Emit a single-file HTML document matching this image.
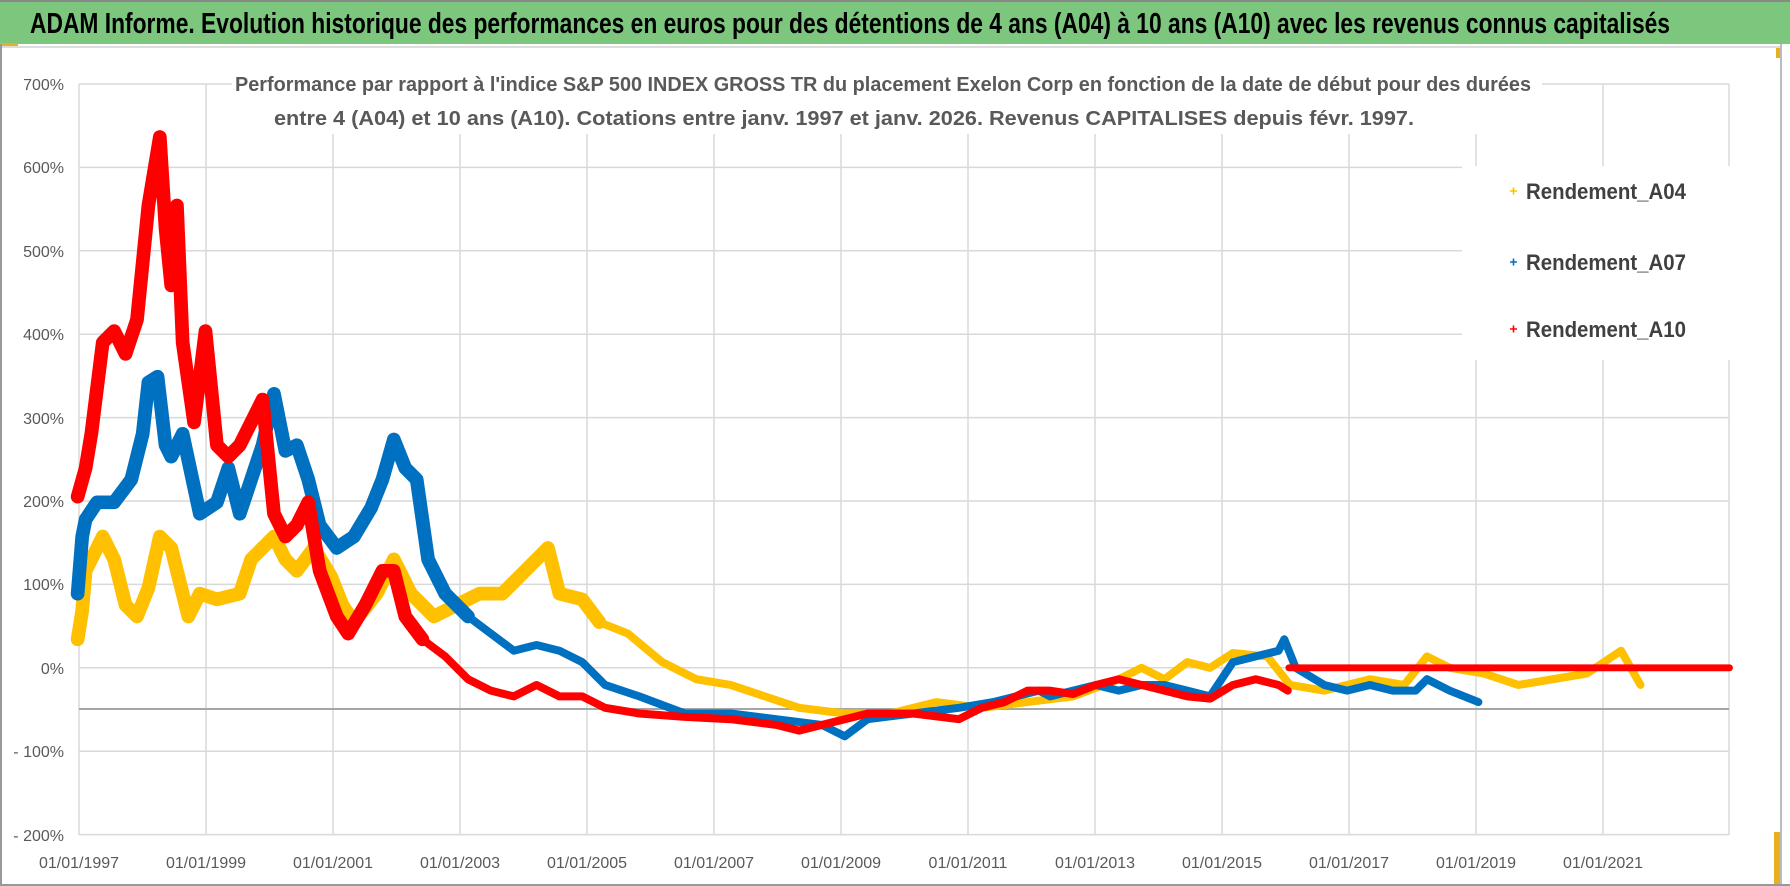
<!DOCTYPE html>
<html><head><meta charset="utf-8"><style>
html,body{margin:0;padding:0;background:#fff;}
svg{display:block;}
text{font-family:"Liberation Sans",sans-serif;}
</style></head><body>
<svg width="1790" height="886" xmlns="http://www.w3.org/2000/svg">
<rect x="0" y="0" width="1790" height="886" fill="#fff"/>
<rect x="0" y="0" width="1790" height="44" fill="#7DC67E"/>
<line x1="0" y1="1" x2="1790" y2="1" stroke="#888" stroke-width="2"/>
<rect x="0" y="43" width="18" height="3" fill="#E8B020"/>
<line x1="0" y1="47" x2="1780" y2="47" stroke="#ddd" stroke-width="2"/>
<line x1="1" y1="44" x2="1" y2="886" stroke="#999" stroke-width="2"/>
<line x1="1781" y1="44" x2="1781" y2="886" stroke="#bbb" stroke-width="2"/>
<line x1="0" y1="885" x2="1790" y2="885" stroke="#999" stroke-width="2"/>
<rect x="1776" y="48" width="4" height="10" fill="#E8B020"/>
<rect x="1774" y="832" width="6" height="52" fill="#E8B020"/>
<text x="30" y="33" font-size="29" font-weight="bold" fill="#000" textLength="1640" lengthAdjust="spacingAndGlyphs">ADAM Informe. Evolution historique des performances en euros pour des détentions de 4 ans (A04) à 10 ans (A10) avec les revenus connus capitalisés</text>

<g stroke="#d9d9d9" stroke-width="1.5">
<line x1="79" y1="84" x2="1729" y2="84"/>
<line x1="79" y1="167.4" x2="1729" y2="167.4"/>
<line x1="79" y1="250.8" x2="1729" y2="250.8"/>
<line x1="79" y1="334.2" x2="1729" y2="334.2"/>
<line x1="79" y1="417.6" x2="1729" y2="417.6"/>
<line x1="79" y1="501" x2="1729" y2="501"/>
<line x1="79" y1="584.4" x2="1729" y2="584.4"/>
<line x1="79" y1="667.8" x2="1729" y2="667.8"/>
<line x1="79" y1="751.2" x2="1729" y2="751.2"/>
<line x1="79" y1="834.6" x2="1729" y2="834.6"/>
<line x1="79" y1="84" x2="79" y2="835"/>
<line x1="206" y1="84" x2="206" y2="835"/>
<line x1="333" y1="84" x2="333" y2="835"/>
<line x1="460" y1="84" x2="460" y2="835"/>
<line x1="587" y1="84" x2="587" y2="835"/>
<line x1="714" y1="84" x2="714" y2="835"/>
<line x1="841" y1="84" x2="841" y2="835"/>
<line x1="968" y1="84" x2="968" y2="835"/>
<line x1="1095" y1="84" x2="1095" y2="835"/>
<line x1="1222" y1="84" x2="1222" y2="835"/>
<line x1="1349" y1="84" x2="1349" y2="835"/>
<line x1="1476" y1="84" x2="1476" y2="835"/>
<line x1="1603" y1="84" x2="1603" y2="835"/>
<line x1="1729" y1="84" x2="1729" y2="835"/>
</g>
<line x1="79" y1="709" x2="1729" y2="709" stroke="#a6a6a6" stroke-width="2"/>

<g font-size="16" fill="#595959" text-anchor="end">
<text x="64" y="90">700%</text>
<text x="64" y="173">600%</text>
<text x="64" y="257">500%</text>
<text x="64" y="340">400%</text>
<text x="64" y="424">300%</text>
<text x="64" y="507">200%</text>
<text x="64" y="590">100%</text>
<text x="64" y="674">0%</text>
<text x="64" y="757">- 100%</text>
<text x="64" y="841">- 200%</text>
</g>
<g font-size="16" fill="#595959" text-anchor="middle">
<text x="79" y="868">01/01/1997</text>
<text x="206" y="868">01/01/1999</text>
<text x="333" y="868">01/01/2001</text>
<text x="460" y="868">01/01/2003</text>
<text x="587" y="868">01/01/2005</text>
<text x="714" y="868">01/01/2007</text>
<text x="841" y="868">01/01/2009</text>
<text x="968" y="868">01/01/2011</text>
<text x="1095" y="868">01/01/2013</text>
<text x="1222" y="868">01/01/2015</text>
<text x="1349" y="868">01/01/2017</text>
<text x="1476" y="868">01/01/2019</text>
<text x="1603" y="868">01/01/2021</text>
</g>

<g transform="scale(1.1416)" fill="none" stroke-linejoin="round" stroke-linecap="round">
<!-- A04 yellow -->
<polyline stroke="#FFC000" stroke-width="12" points="68,560 72,535 75,500 90,470 100,490 110,530 120,540 130,515 140,470 150,480 165,540 175,520 190,525 210,520 220,490 230,480 240,470 250,490 260,500 275,480 290,505 300,530 310,545 330,520 345,490 360,520 380,540 400,530 420,520 440,520 460,500 480,480 490,520 510,525 525,545"/>
<polyline stroke="#FFC000" stroke-width="7" points="525,545 550,555 580,580 610,595 640,600 670,610 700,620 740,625 780,625 820,615 860,620 900,615 940,610 980,595 1000,585 1020,595 1040,580 1060,585 1080,572 1110,575 1130,600 1160,605 1200,595 1230,600 1250,575 1270,585 1300,590 1330,600 1360,595 1390,590 1420,570 1437,600"/>
<!-- A07 blue -->
<polyline stroke="#0070C0" stroke-width="12" points="68,520 72,470 75,455 85,440 100,440 115,420 125,380 130,335 138,330 145,390 150,400 160,380 175,450 190,440 200,410 210,450 220,420 230,390 240,345 250,395 260,390 270,420 280,460 295,480 310,470 325,445 335,420 345,385 355,410 365,420 375,490 390,520 410,540"/>
<polyline stroke="#0070C0" stroke-width="7" points="410,540 430,555 450,570 470,565 490,570 510,580 530,600 560,610 600,625 640,625 680,630 720,635 740,645 760,630 800,625 840,620 870,615 890,610 910,605 920,610 940,605 960,600 980,605 1000,600 1020,600 1040,605 1060,610 1080,580 1100,575 1120,570 1125,560 1135,585 1160,600 1180,605 1200,600 1220,605 1240,605 1250,595 1270,605 1295,615"/>
<!-- A10 red -->
<polyline stroke="#FF0000" stroke-width="12" points="68,435 75,410 80,380 90,300 100,290 110,310 120,280 130,180 135,150 140,120 145,200 150,250 155,180 160,300 170,370 180,290 190,390 200,400 210,390 220,370 230,350 240,450 250,470 260,460 270,440 280,500 295,540 305,555 320,530 335,500 345,500 355,540 370,560"/>
<polyline stroke="#FF0000" stroke-width="7" points="370,560 390,575 410,595 430,605 450,610 470,600 490,610 510,610 530,620 560,625 600,628 640,630 680,635 700,640 720,635 740,630 760,625 800,625 840,630 860,620 880,615 900,605 920,605 940,608 960,600 980,595 1000,600 1020,605 1040,610 1060,612 1080,600 1100,595 1120,600 1128,605"/>
<line x1="1129" y1="585" x2="1515" y2="585" stroke="#FF0000" stroke-width="6"/>
</g>

<rect x="232" y="68" width="1310" height="66" fill="#fff"/>
<text x="883" y="91" font-size="20" font-weight="bold" fill="#595959" text-anchor="middle" textLength="1296" lengthAdjust="spacingAndGlyphs">Performance par rapport à l'indice S&amp;P 500 INDEX GROSS TR  du placement Exelon Corp en fonction de la date de début pour des durées</text>
<text x="844" y="125" font-size="20" font-weight="bold" fill="#595959" text-anchor="middle" textLength="1140" lengthAdjust="spacingAndGlyphs">entre 4 (A04) et 10 ans (A10).  Cotations entre janv. 1997 et janv. 2026. Revenus CAPITALISES depuis févr. 1997.</text>
<rect x="1462" y="166" width="268" height="194" fill="#fff"/>
<g font-size="22" font-weight="bold" fill="#404040">
<path d="M1510 191h7M1513.5 187.5v7" stroke="#FFC000" stroke-width="1.6"/>
<text x="1526" y="199" textLength="160" lengthAdjust="spacingAndGlyphs">Rendement_A04</text>
<path d="M1510 262h7M1513.5 258.5v7" stroke="#0070C0" stroke-width="1.6"/>
<text x="1526" y="270" textLength="160" lengthAdjust="spacingAndGlyphs">Rendement_A07</text>
<path d="M1510 329h7M1513.5 325.5v7" stroke="#FF0000" stroke-width="1.6"/>
<text x="1526" y="337" textLength="160" lengthAdjust="spacingAndGlyphs">Rendement_A10</text>
</g>
</svg>
</body></html>
